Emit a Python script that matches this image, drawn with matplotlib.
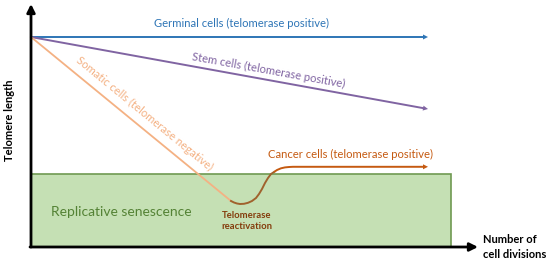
import matplotlib
matplotlib.use("Agg")
import matplotlib.pyplot as plt
from matplotlib.patches import Rectangle
import numpy as np

plt.rcParams['font.family'] = ['Lato', 'DejaVu Sans']

# Data (x = number of cell divisions, y = telomere length, arbitrary units)
germinal_x = [0, 397]
germinal_y = [210, 210]
stem_x = [0, 397]
stem_y = [210, 138]
somatic_x = [0, 200]
somatic_y = [210, 46]
reactivation_x = [200, 203, 206, 209, 213, 217, 221, 225, 228, 231, 234, 237, 240, 243]
reactivation_y = [46, 44.5, 43.5, 43, 43.2, 44.2, 46, 49, 53, 58, 64, 69, 73, 75]
cancer_x = [243, 246, 250, 254, 258, 262, 397]
cancer_y = [75, 77, 78.7, 79.6, 80, 80.2, 80.2]
senescence_x = [0, 420]
senescence_y = [0, 73]

labels = {
    'germinal': 'Germinal cells (telomerase positive)',
    'stem': 'Stem cells (telomerase positive)',
    'somatic': 'Somatic cells (telomerase negative)',
    'cancer': 'Cancer cells (telomerase positive)',
}

c_germ = '#2e75b6'
c_stem = '#8064a2'
c_soma = '#f4b183'
c_react = '#a0622d'
c_cancer = '#c55a11'

fig = plt.figure(figsize=(5.5, 2.67), dpi=100)
ax = fig.add_axes([0, 0, 1, 1])
ax.set_xlim(-31, 519)
ax.set_ylim(-20, 247)
ax.axis('off')

# senescence zone
ax.add_patch(Rectangle((senescence_x[0], senescence_y[0]),
                       senescence_x[1] - senescence_x[0],
                       senescence_y[1] - senescence_y[0],
                       facecolor='#c5e0b4', edgecolor='#6f9a52', lw=1.2, zorder=1))
ax.text(90, 35, 'Replicative senescence', color='#548235', fontsize=10,
        ha='center', va='center')

# axes arrows
ax.annotate('', xy=(0, 243), xytext=(0, 0),
            arrowprops=dict(arrowstyle='-|>', color='black', lw=2, mutation_scale=12,
                            shrinkA=0, shrinkB=0), zorder=5)
ax.annotate('', xy=(447, 0), xytext=(-1, 0),
            arrowprops=dict(arrowstyle='-|>', color='black', lw=2, mutation_scale=12,
                            shrinkA=0, shrinkB=0), zorder=5)
ax.text(-21, 127, 'Telomere length', rotation=90, fontsize=8, fontweight='bold',
        ha='center', va='center')
ax.text(452, 0, 'Number of\ncell divisions', fontsize=8, fontweight='bold',
        ha='left', va='center', linespacing=1.35)


def arrow_line(xs, ys, color):
    ang = np.arctan2(ys[-1] - ys[-2], xs[-1] - xs[-2])
    ax.plot(xs[:-1] + [xs[-1] - 4 * np.cos(ang)], ys[:-1] + [ys[-1] - 4 * np.sin(ang)],
            color=color, lw=1.4, solid_capstyle='butt', zorder=3)
    ax.annotate('', xy=(xs[-1], ys[-1]), xytext=(xs[-2], ys[-2]),
                arrowprops=dict(arrowstyle='-|>', color=color, lw=0, mutation_scale=9,
                                shrinkA=0, shrinkB=0), zorder=3)


arrow_line(germinal_x, germinal_y, c_germ)
arrow_line(stem_x, stem_y, c_stem)
ax.plot(somatic_x, somatic_y, color=c_soma, lw=1.3, zorder=3)
ax.plot(reactivation_x, reactivation_y, color=c_react, lw=1.4, zorder=3)
arrow_line(cancer_x, cancer_y, c_cancer)

ax.text(211, 224, labels['germinal'], color=c_germ, fontsize=8.1, ha='center', va='center')
ang_stem = np.degrees(np.arctan2(stem_y[1] - stem_y[0], stem_x[1] - stem_x[0]))
ax.text(237, 177, labels['stem'], color=c_stem, fontsize=8.1, ha='center', va='center',
        rotation=ang_stem, rotation_mode='anchor')
ang_soma = np.degrees(np.arctan2(somatic_y[1] - somatic_y[0], somatic_x[1] - somatic_x[0]))
ax.text(113, 133, labels['somatic'], color=c_soma, fontsize=8.1, ha='center', va='center',
        rotation=ang_soma, rotation_mode='anchor')
ax.text(320, 93, labels['cancer'], color=c_cancer, fontsize=8.1, ha='center', va='center')
ax.text(216, 26, 'Telomerase\nreactivation', color='#843c0c', fontsize=6.8,
        fontweight='bold', ha='center', va='center', linespacing=1.35)

fig.savefig('out.png', dpi=100)
